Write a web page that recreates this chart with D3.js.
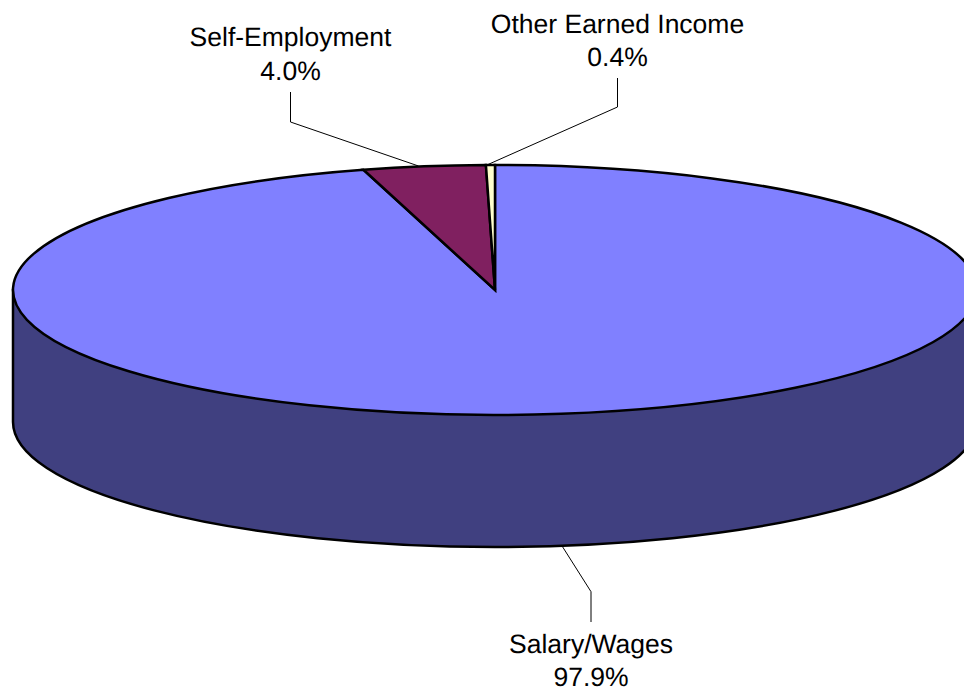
<!DOCTYPE html>
<html>

<head>
    <title>Earned income pie</title>
    <meta charset="utf-8" />
    <script src="https://cdn.jsdelivr.net/npm/d3@7"></script>
    <style>
        html, body { margin: 0; padding: 0; background: white; }
        svg { display: block; }
        text { font-family: "Liberation Sans", Arial, sans-serif; font-size: 26.5px; fill: black; text-rendering: geometricPrecision; }
    </style>
</head>

<body>
    <div id="chart"></div>

    <script>
        let categories = ['Salary/Wages', 'Self-Employment', 'Other Earned Income'];
        let percentLabels = ['97.9%', '4.0%', '0.4%'];
        // slice sizes as measured on the picture, the printed labels do not add up to 100
        let sliceShares = [95.6, 4.1, 0.3];
        let topColors = ['#8080ff', '#802060', '#ffffcc'];
        let sideColor = '#404080';

        const width = 964, height = 694;
        const cx = 495, cy = 290, rx = 482, ry = 125, depth = 132;

        // leader lines and labels, same order as categories
        let leaders = [
            [[562.7, 547], [591, 591.7], [591, 622]],
            [[418.5, 166], [290.5, 122], [290.5, 92]],
            [[488, 164.5], [617.5, 107], [617.5, 78]]
        ];
        let labelPos = [[591, 652.5], [290.5, 46], [617.5, 32.5]];

        let svg = d3.select('#chart').append('svg')
            .attr('width', width)
            .attr('height', height);

        // side wall of the disc, only the big slice shows at the front
        svg.append('path')
            .attr('d', `M${cx - rx},${cy} V${cy + depth} A${rx},${ry} 0 0 0 ${cx + rx},${cy + depth} V${cy} Z`)
            .attr('fill', sideColor)
            .attr('stroke', 'black')
            .attr('stroke-width', 2.5);

        let pie = d3.pie().sort(null).value(d => d);
        let arc = d3.arc().innerRadius(0).outerRadius(rx);

        // flat circle squashed into the ellipse
        let disc = svg.append('g')
            .attr('transform', `translate(${cx},${cy}) scale(1,${ry / rx})`);

        disc.selectAll('path')
            .data(pie(sliceShares))
            .enter()
            .append('path')
            .attr('d', arc)
            .attr('fill', (d, i) => topColors[i])
            .attr('stroke', 'black')
            .attr('stroke-width', 2.5)
            .attr('stroke-linejoin', 'miter')
            .attr('vector-effect', 'non-scaling-stroke');

        let line = d3.line();

        svg.selectAll('.leader')
            .data(leaders)
            .enter()
            .append('path')
            .attr('class', 'leader')
            .attr('d', line)
            .attr('fill', 'none')
            .attr('stroke', 'black')
            .attr('stroke-width', 1);

        let labels = svg.selectAll('.label')
            .data(categories)
            .enter()
            .append('text')
            .attr('class', 'label')
            .attr('text-anchor', 'middle')
            .attr('x', (d, i) => labelPos[i][0])
            .attr('y', (d, i) => labelPos[i][1]);

        labels.append('tspan')
            .text(d => d);

        labels.append('tspan')
            .attr('x', (d, i) => labelPos[i][0])
            .attr('dy', 33.5)
            .text((d, i) => percentLabels[i]);
    </script>
</body>

</html>
